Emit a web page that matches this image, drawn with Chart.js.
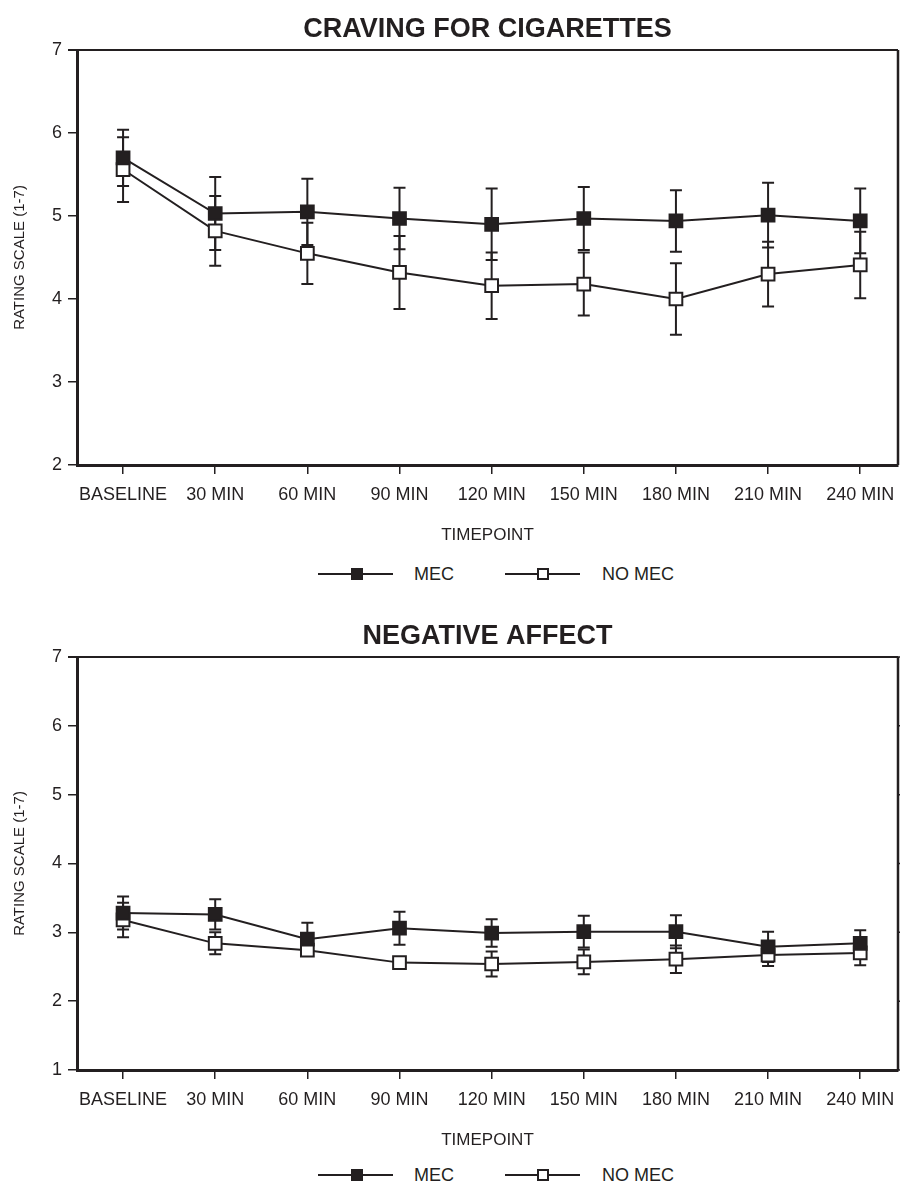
<!DOCTYPE html>
<html><head><meta charset="utf-8">
<script src="https://cdn.jsdelivr.net/npm/chart.js@4.4.1/dist/chart.umd.min.js"></script>
<style>
body{margin:0;background:#fff;width:900px;height:1189px;position:relative;overflow:hidden;font-family:"Liberation Sans",Arial,sans-serif;}
.wrap{position:absolute;left:0;width:900px;overflow:hidden;}
.legend{position:absolute;left:0;width:900px;height:20px;font-size:18px;color:#231f20;}
.ln{position:absolute;height:2px;background:#231f20;top:9px;width:75px;}
.mk{position:absolute;width:8px;height:8px;border:2px solid #231f20;top:4px;}
.tx{position:absolute;top:0;line-height:20px;white-space:nowrap;}
</style></head>
<body>
<div class="wrap" style="top:0;height:555px;"><canvas id="c1" width="909" height="555"></canvas></div>
<div class="legend" style="top:564px;">
  <div class="ln" style="left:318px;"></div><div class="mk" style="left:351px;background:#231f20;"></div><div class="tx" style="left:414px;">MEC</div>
  <div class="ln" style="left:505px;"></div><div class="mk" style="left:537px;background:#fff;"></div><div class="tx" style="left:602px;">NO MEC</div>
</div>
<div class="wrap" style="top:607px;height:553px;"><canvas id="c2" width="909" height="553"></canvas></div>
<div class="legend" style="top:1165px;">
  <div class="ln" style="left:318px;"></div><div class="mk" style="left:351px;background:#231f20;"></div><div class="tx" style="left:414px;">MEC</div>
  <div class="ln" style="left:505px;"></div><div class="mk" style="left:537px;background:#fff;"></div><div class="tx" style="left:602px;">NO MEC</div>
</div>
<script>
const categories = ['BASELINE','30 MIN','60 MIN','90 MIN','120 MIN','150 MIN','180 MIN','210 MIN','240 MIN'];
const seriesNames = ['MEC','NO MEC'];

const cravingMec      = [5.70, 5.03, 5.05, 4.97, 4.90, 4.97, 4.94, 5.01, 4.94];
const cravingMecErr   = [0.34, 0.44, 0.40, 0.37, 0.43, 0.38, 0.37, 0.39, 0.39];
const cravingNoMec    = [5.56, 4.82, 4.55, 4.32, 4.16, 4.18, 4.00, 4.30, 4.41];
const cravingNoMecErr = [0.39, 0.42, 0.37, 0.44, 0.40, 0.38, 0.43, 0.39, 0.40];

const negMec      = [3.28, 3.26, 2.90, 3.06, 2.99, 3.01, 3.01, 2.79, 2.84];
const negMecErr   = [0.24, 0.22, 0.24, 0.24, 0.20, 0.23, 0.24, 0.22, 0.19];
const negNoMec    = [3.18, 2.84, 2.74, 2.56, 2.54, 2.57, 2.61, 2.67, 2.70];
const negNoMecErr = [0.25, 0.16, 0.07, 0.07, 0.18, 0.18, 0.20, 0.16, 0.18];

const INK = '#231f20';
Chart.defaults.font.family = "'Liberation Sans', Arial, sans-serif";
Chart.defaults.color = INK;

const toPoints = arr => arr.map((v, i) => ({ x: i, y: v }));

const errorBars = {
  id: 'errorBars',
  beforeDatasetsDraw(chart) {
    const ctx = chart.ctx, ys = chart.scales.y;
    chart.data.datasets.forEach((ds, i) => {
      const meta = chart.getDatasetMeta(i);
      meta.data.forEach((pt, j) => {
        const v = ds.data[j].y, e = ds.errors[j];
        const yt = ys.getPixelForValue(v + e), yb = ys.getPixelForValue(v - e);
        ctx.save();
        ctx.strokeStyle = INK; ctx.lineWidth = 2;
        ctx.beginPath();
        ctx.moveTo(pt.x, yt); ctx.lineTo(pt.x, yb);
        ctx.moveTo(pt.x - 6, yt); ctx.lineTo(pt.x + 6, yt);
        ctx.moveTo(pt.x - 6, yb); ctx.lineTo(pt.x + 6, yb);
        ctx.stroke();
        ctx.restore();
      });
    });
  }
};

const frame = {
  id: 'frame',
  afterDraw(chart, args, opts) {
    const {ctx, chartArea: a} = chart;
    ctx.save();
    ctx.strokeStyle = INK;
    ctx.lineWidth = 2;
    ctx.beginPath();
    ctx.moveTo(a.left - 9, a.top); ctx.lineTo(a.right, a.top);
    ctx.stroke();
    ctx.lineWidth = 2.5;
    ctx.beginPath();
    ctx.moveTo(a.right, a.top); ctx.lineTo(a.right, a.bottom);
    ctx.stroke();
    if (opts.rightTicks) {
      const ys = chart.scales.y;
      ctx.lineWidth = 1.5;
      ctx.beginPath();
      ys.ticks.forEach(t => {
        const p = ys.getPixelForValue(t.value);
        ctx.moveTo(a.right, p); ctx.lineTo(a.right + 6, p);
      });
      ctx.stroke();
    }
    ctx.restore();
  }
};

function makeChart(id, title, mec, mecErr, noMec, noMecErr, ymin, rightTicks) {
  return new Chart(document.getElementById(id), {
    type: 'line',
    data: {
      datasets: [
        { label: seriesNames[0], data: toPoints(mec), errors: mecErr, borderColor: INK, borderWidth: 2,
          pointStyle: 'rect', pointRadius: 9, pointBorderWidth: 2, pointBorderColor: INK,
          pointBackgroundColor: INK, tension: 0 },
        { label: seriesNames[1], data: toPoints(noMec), errors: noMecErr, borderColor: INK, borderWidth: 2,
          pointStyle: 'rect', pointRadius: 9, pointBorderWidth: 2, pointBorderColor: INK,
          pointBackgroundColor: '#ffffff', tension: 0 }
      ]
    },
    options: {
      responsive: false, animation: false, devicePixelRatio: 1,
      layout: { padding: { left: 0, right: 3, top: 0, bottom: 0 } },
      plugins: {
        legend: { display: false },
        tooltip: { enabled: false },
        title: { display: true, text: title, color: INK, fullSize: false,
                 font: { size: 27, weight: 'bold' }, padding: { top: 13, bottom: 4.6 } },
        frame: { rightTicks: rightTicks }
      },
      scales: {
        x: {
          type: 'linear',
          min: -0.5, max: 8.41,
          grid: { display: true, drawOnChartArea: false, drawTicks: true, tickLength: 9, color: INK, lineWidth: 1.5 },
          border: { display: true, color: INK, width: 3 },
          ticks: { stepSize: 1, includeBounds: false, font: { size: 18 }, color: INK, padding: 10,
                   maxRotation: 0, autoSkip: false,
                   callback: v => categories[v] !== undefined && Number.isInteger(v) ? categories[v] : '' },
          title: { display: true, text: 'TIMEPOINT', color: INK, font: { size: 17 }, padding: { top: 0, bottom: 9 } },
          afterFit(s) { s.height = 90; }
        },
        y: {
          min: ymin, max: 7,
          grid: { display: true, drawOnChartArea: false, drawTicks: true, tickLength: 9, color: INK, lineWidth: 1.5 },
          border: { display: true, color: INK, width: 3 },
          ticks: { stepSize: 1, font: { size: 18 }, color: INK, padding: 6 },
          title: { display: true, text: 'RATING SCALE (1-7)', color: INK, font: { size: 15 }, padding: { top: 11, bottom: 0 } },
          afterFit(s) { s.width = 77; }
        }
      }
    },
    plugins: [errorBars, frame]
  });
}

makeChart('c1', 'CRAVING FOR CIGARETTES', cravingMec, cravingMecErr, cravingNoMec, cravingNoMecErr, 2, false);
makeChart('c2', 'NEGATIVE AFFECT', negMec, negMecErr, negNoMec, negNoMecErr, 1, true);
</script>
</body></html>
